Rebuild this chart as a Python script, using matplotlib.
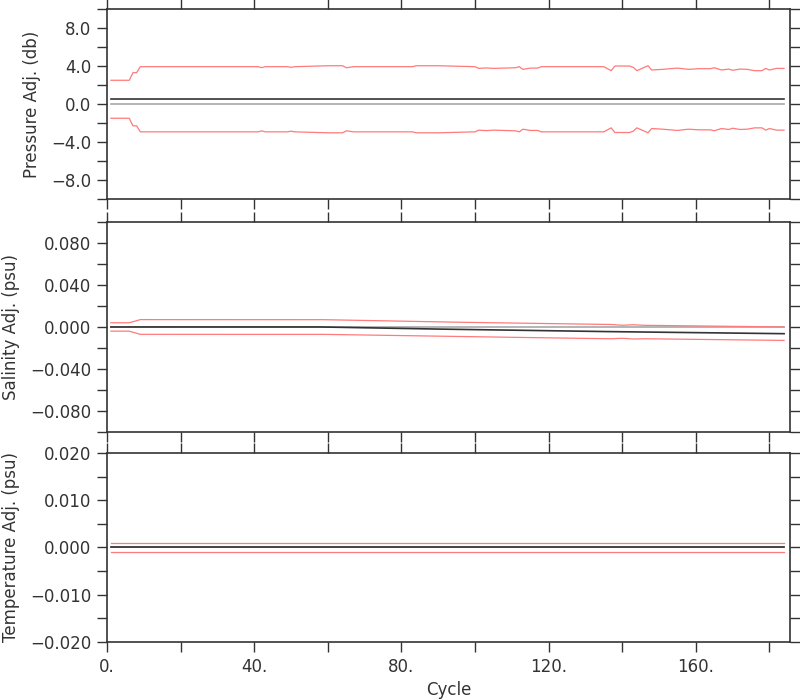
import numpy as np
import matplotlib
matplotlib.use("Agg")
import matplotlib.pyplot as plt
from matplotlib.ticker import MultipleLocator, FuncFormatter

plt.rcParams['font.family'] = ['DejaVu Sans']

# pressure: adjustment and error (breakpoints)
pres_cycle = [1, 6, 7, 8, 9, 41, 42, 43, 49, 50, 51, 60, 64, 65, 67, 83, 84, 90,
              100, 101, 103, 105, 111, 112, 113, 115, 117, 118, 135, 137, 138, 142,
              143, 144, 147, 148, 151, 155, 158, 161, 164, 165, 167, 169, 170, 172,
              174, 176, 178, 179, 180, 182, 184]
pres_err = [2.0, 2.0, 2.8, 2.8, 3.43, 3.43, 3.33, 3.43, 3.43, 3.36, 3.43, 3.53, 3.53,
            3.32, 3.43, 3.43, 3.53, 3.53,
            3.43, 3.25, 3.3, 3.25, 3.32, 3.43, 3.15, 3.28, 3.28, 3.43, 3.43, 3.01,
            3.5, 3.5, 3.36, 3.01, 3.53, 3.08, 3.15, 3.28, 3.15, 3.22, 3.22, 3.32,
            3.08, 3.18, 3.05, 3.18, 3.15, 3.01, 3.01, 3.25, 3.08, 3.25, 3.25]
pres_adj = 0.5

# salinity
sal_adj_cycle = [1, 58, 90, 136, 184]
sal_adj = [0.0, 0.0, -0.0020, -0.0044, -0.0064]
sal_err_cycle = [1, 6, 9, 58, 90, 137, 140, 143, 146, 184]
sal_err = [0.004, 0.004, 0.0070, 0.0070, 0.0068, 0.0068, 0.0062, 0.0068, 0.0064, 0.0064]

# temperature
temp_cycle = [1, 184]
temp_adj = [0.0, 0.0]
temp_err = [0.001, 0.001]

red = "#ff7a7a"
dark = "#333333"


def fmt(f):
    return FuncFormatter(lambda v, p: (f % (v + 0.0)).replace("-", "\u2212"))


fig = plt.figure(figsize=(8, 7), dpi=100)
ax1 = fig.add_axes([0.134, 0.7157, 0.853, 0.2714])
ax2 = fig.add_axes([0.134, 0.3829, 0.853, 0.3])
ax3 = fig.add_axes([0.134, 0.0829, 0.853, 0.27])

# pressure panel
pc = np.array(pres_cycle)
pe = np.array(pres_err)
ax1.plot([1, 184], [0, 0], color="#a8a8a8", lw=1.2)
ax1.plot([1, 184], [pres_adj, pres_adj], color=dark, lw=1.2)
ax1.plot(pc, pres_adj + pe, color=red, lw=0.9)
ax1.plot(pc, pres_adj - pe, color=red, lw=0.9)

# salinity panel
sc = np.arange(1, 185)
sa = np.interp(sc, sal_adj_cycle, sal_adj)
se = np.interp(sc, sal_err_cycle, sal_err)
ax2.plot([1, 184], [0, 0], color="#a8a8a8", lw=1.2)
ax2.plot(sal_adj_cycle, sal_adj, color=dark, lw=1.2)
ax2.plot(sc, sa + se, color=red, lw=0.9)
ax2.plot(sc, sa - se, color=red, lw=0.9)

# temperature panel
ax3.plot(temp_cycle, [0, 0], color="#a8a8a8", lw=1.2)
ax3.plot(temp_cycle, temp_adj, color=dark, lw=1.2)
ax3.plot(temp_cycle, np.array(temp_adj) + np.array(temp_err), color=red, lw=0.9)
ax3.plot(temp_cycle, np.array(temp_adj) - np.array(temp_err), color=red, lw=0.9)

ax1.set_ylim(-10, 10)
ax2.set_ylim(-0.1, 0.1)
ax3.set_ylim(-0.02, 0.02)

ax1.yaxis.set_major_locator(MultipleLocator(4))
ax1.yaxis.set_minor_locator(MultipleLocator(2))
ax1.yaxis.set_major_formatter(fmt("%.1f"))
ax2.yaxis.set_major_locator(MultipleLocator(0.04))
ax2.yaxis.set_minor_locator(MultipleLocator(0.02))
ax2.yaxis.set_major_formatter(fmt("%.3f"))
ax3.yaxis.set_major_locator(MultipleLocator(0.01))
ax3.yaxis.set_minor_locator(MultipleLocator(0.005))
ax3.yaxis.set_major_formatter(fmt("%.3f"))

ax1.set_ylabel("Pressure Adj. (db)", fontsize=12, labelpad=7)
ax2.set_ylabel("Salinity Adj. (psu)", fontsize=12, labelpad=7)
ax3.set_ylabel("Temperature Adj. (psu)", fontsize=12, labelpad=7)
ax3.set_xlabel("Cycle", fontsize=12, labelpad=4)

for ax in [ax1, ax2, ax3]:
    ax.set_xlim(0, 185.5)
    ax.xaxis.set_major_locator(MultipleLocator(40))
    ax.xaxis.set_minor_locator(MultipleLocator(20))
    ax.xaxis.set_major_formatter(FuncFormatter(lambda v, p: "%d." % v))
    ax.tick_params(which="both", direction="out", length=7.5, width=1, color=dark,
                   top=True, right=True, labelsize=12, labelcolor=dark, pad=4)
    for s in ax.spines.values():
        s.set_color(dark)
        s.set_linewidth(1.2)
    if ax is not ax3:
        ax.tick_params(labelbottom=False)
    ax.yaxis.label.set_color(dark)
    ax.xaxis.label.set_color(dark)

fig.savefig("out.png", dpi=100)
